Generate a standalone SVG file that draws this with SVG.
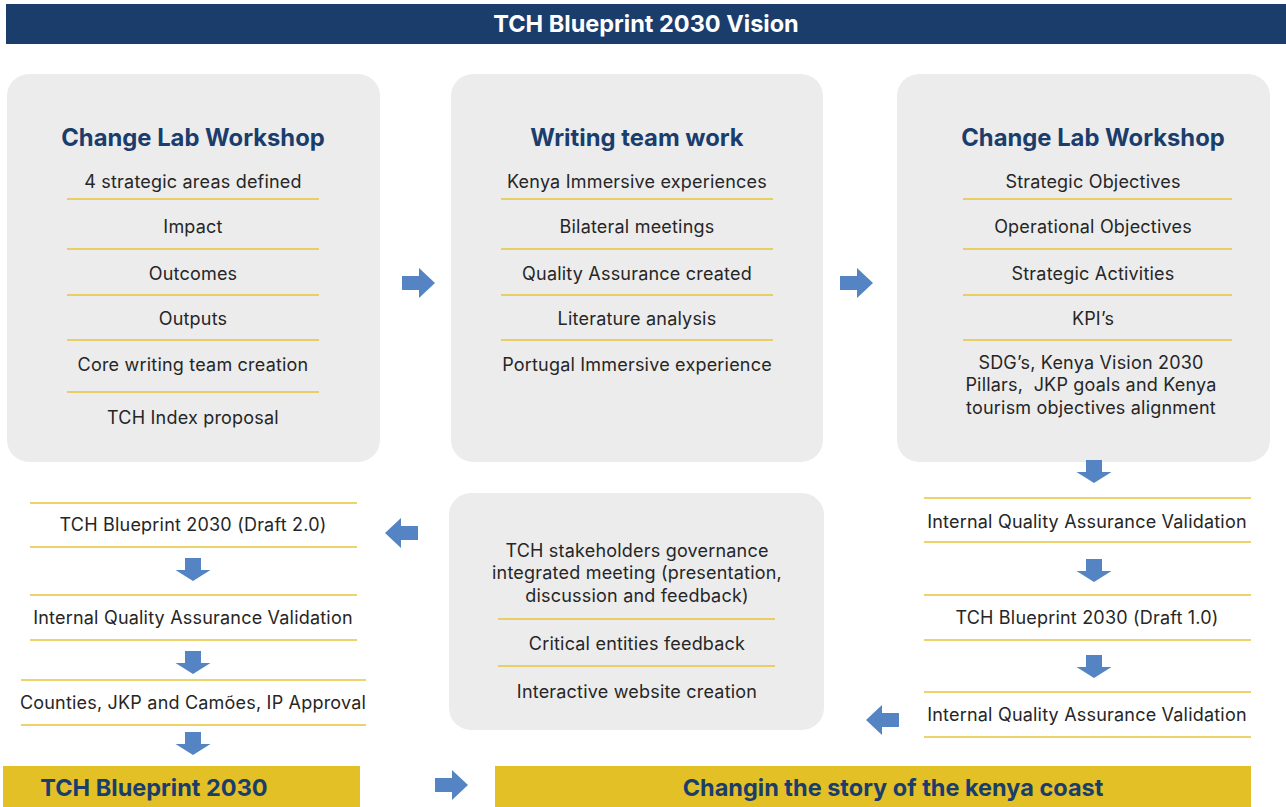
<svg xmlns="http://www.w3.org/2000/svg" width="1286" height="807" viewBox="0 0 1286 807">
  <defs>
    <style>
      .bg { fill: #ffffff; }
      .card { fill: #ececec; }
      .hdr { fill: #1a3d6c; }
      .bar { fill: #e2c026; }
      .sep { stroke: #e6c43a; stroke-width: 1.6; fill: none; }
      .arrow { fill: #5584c4; }
      .t { font-family: Inter, "Liberation Sans", sans-serif; font-size: 18px; letter-spacing: 0.2px; fill: #262626; text-anchor: middle; }
      .title { font-family: Inter, "Liberation Sans", sans-serif; font-size: 23.8px; font-weight: 700; fill: #1a3d6c; text-anchor: middle; }
      .htext { font-family: Inter, "Liberation Sans", sans-serif; font-size: 23.5px; font-weight: 700; fill: #ffffff; text-anchor: middle; }
      .btext { font-family: Inter, "Liberation Sans", sans-serif; font-size: 23.5px; font-weight: 700; fill: #1a3d6c; text-anchor: middle; }
    </style>
    <!-- block arrows, drawn pointing right / down / left around the origin -->
    <path id="arrowRight" d="M0,-7 H17 V-15 L33,0 L17,15 V7 H0 Z"/>
    <path id="arrowDown" d="M-8,0 H8 V12 H17.5 L0,23 L-17.5,12 H-8 Z"/>
    <path id="arrowLeft" d="M0,-7 H-17 V-15 L-33,0 L-17,15 V7 H0 Z"/>
  </defs>

  <rect class="bg" x="0" y="0" width="1286" height="807"/>

  <!-- header band -->
  <g id="header">
    <rect class="hdr" x="6" y="4" width="1280" height="40"/>
    <text class="htext" x="646" y="32">TCH Blueprint 2030 Vision</text>
  </g>

  <!-- first Change Lab workshop -->
  <g id="workshop1">
    <rect class="card" x="7" y="74" width="373" height="388" rx="22"/>
    <text class="title" x="193" y="146">Change Lab Workshop</text>
    <text class="t" x="193" y="188">4 strategic areas defined</text>
    <line class="sep" x1="67" y1="199" x2="319" y2="199"/>
    <text class="t" x="193" y="233">Impact</text>
    <line class="sep" x1="67" y1="249" x2="319" y2="249"/>
    <text class="t" x="193" y="280">Outcomes</text>
    <line class="sep" x1="67" y1="295" x2="319" y2="295"/>
    <text class="t" x="193" y="325">Outputs</text>
    <line class="sep" x1="67" y1="340" x2="319" y2="340"/>
    <text class="t" x="193" y="371">Core writing team creation</text>
    <line class="sep" x1="67" y1="392" x2="319" y2="392"/>
    <text class="t" x="193" y="424">TCH Index proposal</text>
  </g>

  <!-- writing team -->
  <g id="writing">
    <rect class="card" x="451" y="74" width="372" height="388" rx="22"/>
    <text class="title" x="637" y="146">Writing team work</text>
    <text class="t" x="637" y="188">Kenya Immersive experiences</text>
    <line class="sep" x1="501" y1="199" x2="773" y2="199"/>
    <text class="t" x="637" y="233">Bilateral meetings</text>
    <line class="sep" x1="501" y1="249" x2="773" y2="249"/>
    <text class="t" x="637" y="280">Quality Assurance created</text>
    <line class="sep" x1="501" y1="295" x2="773" y2="295"/>
    <text class="t" x="637" y="325">Literature analysis</text>
    <line class="sep" x1="501" y1="340" x2="773" y2="340"/>
    <text class="t" x="637" y="371">Portugal Immersive experience</text>
  </g>

  <!-- second Change Lab workshop -->
  <g id="workshop2">
    <rect class="card" x="897" y="74" width="373" height="388" rx="22"/>
    <text class="title" x="1093" y="146">Change Lab Workshop</text>
    <text class="t" x="1093" y="188">Strategic Objectives</text>
    <line class="sep" x1="963" y1="199" x2="1232" y2="199"/>
    <text class="t" x="1093" y="233">Operational Objectives</text>
    <line class="sep" x1="963" y1="249" x2="1232" y2="249"/>
    <text class="t" x="1093" y="280">Strategic Activities</text>
    <line class="sep" x1="963" y1="295" x2="1232" y2="295"/>
    <text class="t" x="1093" y="325">KPI’s</text>
    <line class="sep" x1="963" y1="340" x2="1232" y2="340"/>
    <text class="t" x="1091" y="369">SDG’s, Kenya Vision 2030</text>
    <text class="t" x="1091" y="391" xml:space="preserve">Pillars,  JKP goals and Kenya</text>
    <text class="t" x="1091" y="414">tourism objectives alignment</text>
  </g>

  <!-- right column validation steps -->
  <g id="validation1">
    <line class="sep" x1="924" y1="498" x2="1251" y2="498"/>
    <text class="t" x="1087" y="528">Internal Quality Assurance Validation</text>
    <line class="sep" x1="924" y1="542" x2="1251" y2="542"/>
  </g>
  <g id="draft1">
    <line class="sep" x1="924" y1="595" x2="1251" y2="595"/>
    <text class="t" x="1087" y="624">TCH Blueprint 2030 (Draft 1.0)</text>
    <line class="sep" x1="924" y1="640" x2="1251" y2="640"/>
  </g>
  <g id="validation2">
    <line class="sep" x1="924" y1="692" x2="1251" y2="692"/>
    <text class="t" x="1087" y="721">Internal Quality Assurance Validation</text>
    <line class="sep" x1="924" y1="737" x2="1251" y2="737"/>
  </g>

  <!-- stakeholders meeting -->
  <g id="stakeholders">
    <rect class="card" x="449" y="493" width="375" height="237" rx="22"/>
    <text class="t" x="637" y="557">TCH stakeholders governance</text>
    <text class="t" x="637" y="579">integrated meeting (presentation,</text>
    <text class="t" x="637" y="602">discussion and feedback)</text>
    <line class="sep" x1="498" y1="619" x2="775" y2="619"/>
    <text class="t" x="637" y="650">Critical entities feedback</text>
    <line class="sep" x1="498" y1="666" x2="775" y2="666"/>
    <text class="t" x="637" y="698">Interactive website creation</text>
  </g>

  <!-- left column steps -->
  <g id="draft2">
    <line class="sep" x1="30" y1="503" x2="357" y2="503"/>
    <text class="t" x="193" y="531">TCH Blueprint 2030 (Draft 2.0)</text>
    <line class="sep" x1="30" y1="547" x2="357" y2="547"/>
  </g>
  <g id="validation3">
    <line class="sep" x1="30" y1="595" x2="357" y2="595"/>
    <text class="t" x="193" y="624">Internal Quality Assurance Validation</text>
    <line class="sep" x1="30" y1="640" x2="357" y2="640"/>
  </g>
  <g id="approval">
    <line class="sep" x1="21" y1="680" x2="366" y2="680"/>
    <text class="t" x="193" y="709">Counties, JKP and Camões, IP Approval</text>
    <line class="sep" x1="21" y1="725" x2="366" y2="725"/>
  </g>

  <!-- result bars -->
  <g id="blueprint">
    <rect class="bar" x="3" y="766" width="357" height="41"/>
    <text class="btext" x="154" y="796">TCH Blueprint 2030</text>
  </g>
  <g id="story">
    <rect class="bar" x="495" y="766" width="756" height="41"/>
    <text class="btext" x="893" y="796">Changin the story of the kenya coast</text>
  </g>

  <!-- connectors -->
  <g id="connectors" class="arrow">
    <use href="#arrowRight" x="402" y="283"/>
    <use href="#arrowRight" x="840" y="283"/>
    <use href="#arrowDown" x="1094" y="460"/>
    <use href="#arrowDown" x="1094" y="559"/>
    <use href="#arrowDown" x="1094" y="655"/>
    <use href="#arrowLeft" x="899" y="720"/>
    <use href="#arrowLeft" x="418" y="533"/>
    <use href="#arrowDown" x="193" y="558"/>
    <use href="#arrowDown" x="193" y="651"/>
    <use href="#arrowDown" x="193" y="732"/>
    <use href="#arrowRight" x="435" y="785"/>
  </g>
</svg>
